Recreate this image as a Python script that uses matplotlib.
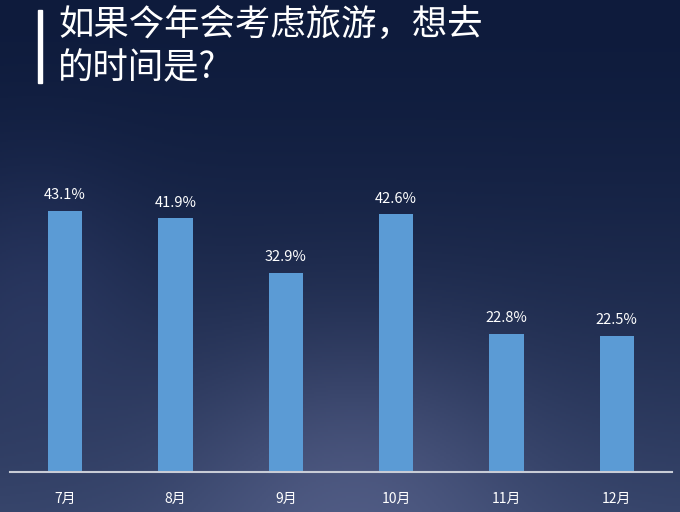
import numpy as np
import matplotlib
matplotlib.use("Agg")
import matplotlib.pyplot as plt

plt.rcParams['font.family'] = ['Noto Sans CJK SC', 'DejaVu Sans']

months = ["7月", "8月", "9月", "10月", "11月", "12月"]
values = [43.1, 41.9, 32.9, 42.6, 22.8, 22.5]
title_lines = ["如果今年会考虑旅游，想去", "的时间是?"]

W, H = 680, 512
fig = plt.figure(figsize=(W / 100, H / 100), dpi=100)

# background: night-sky gradient
bg = fig.add_axes([0, 0, 1, 1])
bg.set_axis_off()
yy, xx = np.mgrid[0:1:256j, 0:1:340j]
top = np.array([0x0e, 0x1b, 0x3c]) / 255
bot = np.array([0x36, 0x44, 0x6a]) / 255
t = yy ** 1.6
img = top[None, None, :] * (1 - t[..., None]) + bot[None, None, :] * t[..., None]
glow = np.exp(-(((xx - 0.52) / 0.25) ** 2 + ((yy - 0.95) / 0.3) ** 2))
img = img + glow[..., None] * np.array([0.10, 0.09, 0.10])
glow2 = np.exp(-(((xx - 0.05) / 0.15) ** 2 + ((yy - 0.55) / 0.25) ** 2))
img = img + glow2[..., None] * np.array([0.04, 0.04, 0.06])
img = np.clip(img, 0, 1)
bg.imshow(img, extent=[0, 1, 0, 1], aspect='auto', origin='upper')
bg.set_xlim(0, 1)
bg.set_ylim(0, 1)

# title
bg.add_patch(plt.Rectangle((38 / W, 1 - 83 / H), 4 / W, 73 / H, color='white', transform=bg.transAxes))
bg.text(58 / W, 1 - 26 / H, title_lines[0], color='white', fontsize=25.5, va='center', ha='left',
        fontweight='light', transform=bg.transAxes)
bg.text(58 / W, 1 - 68 / H, title_lines[1], color='white', fontsize=25.5, va='center', ha='left',
        fontweight='light', transform=bg.transAxes)

# bar chart
ax = fig.add_axes([10 / W, 40 / H, 662 / W, 322 / H])
ax.patch.set_alpha(0)
x = np.arange(len(months))
bars = ax.bar(x, values, width=0.31, color='#5b9bd5')
ax.set_xlim(-0.5, len(months) - 0.5)
ax.set_ylim(0, 322 / 6.06)
for s in ['top', 'right', 'left']:
    ax.spines[s].set_visible(False)
ax.spines['bottom'].set_color('#c8ccd6')
ax.spines['bottom'].set_linewidth(1.5)
ax.set_yticks([])
ax.set_xticks(x)
ax.set_xticklabels(months, color='white', fontsize=10)
ax.tick_params(axis='x', length=0, pad=14)
for xi, v in zip(x, values):
    ax.annotate(f"{v}%", (xi, v), xytext=(0, 6), textcoords='offset points',
                ha='center', va='bottom', color='white', fontsize=10.5)

fig.savefig("out.png", dpi=100)
